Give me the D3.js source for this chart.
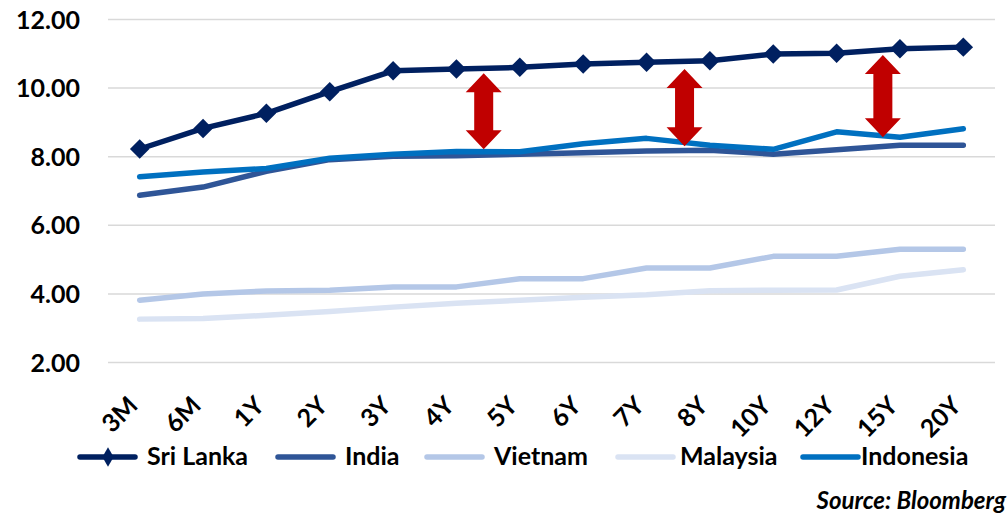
<!DOCTYPE html>
<html>
<head>
<meta charset="utf-8">
<script src="https://cdn.jsdelivr.net/npm/d3@7"></script>
<style>
  body { margin: 0; background: #fff; }
  svg { display: block; font-family: Lato, "Open Sans", sans-serif; font-weight: 700; }
</style>
</head>
<body>
<div id="chart"></div>
<script>
const tenors = ["3M", "6M", "1Y", "2Y", "3Y", "4Y", "5Y", "6Y", "7Y", "8Y", "10Y", "12Y", "15Y", "20Y"];
const yTicks = [2, 4, 6, 8, 10, 12];

const sriLanka  = [8.21, 8.81, 9.25, 9.88, 10.49, 10.54, 10.59, 10.69, 10.74, 10.78, 10.98, 11.00, 11.13, 11.18];
const india     = [6.86, 7.10, 7.56, 7.90, 8.00, 8.01, 8.06, 8.10, 8.15, 8.17, 8.06, 8.19, 8.32, 8.32];
const vietnam   = [3.80, 3.98, 4.07, 4.09, 4.19, 4.19, 4.43, 4.43, 4.74, 4.74, 5.08, 5.08, 5.29, 5.29];
const malaysia  = [3.25, 3.27, 3.36, 3.47, 3.60, 3.71, 3.80, 3.89, 3.96, 4.08, 4.09, 4.10, 4.50, 4.69];
const indonesia = [7.40, 7.54, 7.64, 7.94, 8.06, 8.14, 8.13, 8.36, 8.52, 8.32, 8.20, 8.71, 8.55, 8.80];

const seriesNames  = ["Sri Lanka", "India", "Vietnam", "Malaysia", "Indonesia"];
const seriesValues = [sriLanka, india, vietnam, malaysia, indonesia];
const seriesColors = ["#002060", "#2f5597", "#b4c7e7", "#dae3f3", "#0070c0"];

// gap arrows: fractional category index, top value, bottom value
const arrowPos    = [5.43, 8.6, 11.73];
const arrowTop    = [10.42, 10.54, 10.95];
const arrowBottom = [8.20, 8.29, 8.55];

const width = 1008, height = 516;
const margin = { top: 19, right: 13, bottom: 154, left: 108 };

const svg = d3.select("#chart").append("svg")
  .attr("width", width)
  .attr("height", height);

const x = d3.scalePoint()
  .domain(tenors)
  .range([margin.left, width - margin.right])
  .padding(0.5);

const y = d3.scaleLinear()
  .domain([2, 12])
  .range([height - margin.bottom, margin.top]);

// gridlines
svg.append("g")
  .attr("transform", `translate(${margin.left},0)`)
  .call(d3.axisLeft(y).tickValues(yTicks).tickSize(-(width - margin.left - margin.right)).tickFormat(""))
  .call(g => g.select(".domain").remove())
  .call(g => g.selectAll("line").attr("stroke", "#d9d9d9").attr("stroke-width", 1.5));

// y axis labels
svg.append("g")
  .attr("transform", `translate(${margin.left},0)`)
  .call(d3.axisLeft(y).tickValues(yTicks).tickSize(0).tickPadding(28).tickFormat(d3.format(".2f")))
  .call(g => g.select(".domain").remove())
  .call(g => g.selectAll("text")
    .attr("font-family", "Lato, sans-serif")
    .attr("font-weight", 700)
    .attr("font-size", 25)
    .attr("fill", "#000")
    .attr("dy", "0.36em"));

// x axis labels
svg.append("g")
  .attr("transform", `translate(0,${height - margin.bottom})`)
  .call(d3.axisBottom(x).tickSize(0).tickPadding(0))
  .call(g => g.select(".domain").remove())
  .call(g => g.selectAll("text")
    .attr("font-family", "Lato, sans-serif")
    .attr("font-weight", 700)
    .attr("font-size", 25)
    .attr("fill", "#000")
    .attr("text-anchor", "end")
    .attr("dy", 0)
    .attr("y", 0)
    .attr("transform", "translate(-1,45) rotate(-45)"));

const line = d3.line()
  .x((d, i) => x(tenors[i]))
  .y(d => y(d));

seriesValues.forEach((vals, k) => {
  svg.append("path")
    .datum(vals)
    .attr("fill", "none")
    .attr("stroke", seriesColors[k])
    .attr("stroke-width", 5.5)
    .attr("stroke-linecap", "round")
    .attr("stroke-linejoin", "round")
    .attr("d", line);
});

// diamond markers for Sri Lanka
const diamond = d3.symbol().type(d3.symbolSquare).size(190);
svg.append("g")
  .selectAll("path")
  .data(sriLanka)
  .join("path")
  .attr("d", diamond)
  .attr("fill", seriesColors[0])
  .attr("transform", (d, i) => `translate(${x(tenors[i])},${y(d)}) rotate(45)`);

// red double-headed arrows
const step = x.step();
const arrowPath = (cx, y1, y2) => {
  const sw = 9.5, hw = 18, hl = 19;
  return `M${cx},${y1} L${cx + hw},${y1 + hl} L${cx + sw},${y1 + hl} L${cx + sw},${y2 - hl}` +
    ` L${cx + hw},${y2 - hl} L${cx},${y2} L${cx - hw},${y2 - hl} L${cx - sw},${y2 - hl}` +
    ` L${cx - sw},${y1 + hl} L${cx - hw},${y1 + hl} Z`;
};
svg.append("g")
  .selectAll("path")
  .data(arrowPos)
  .join("path")
  .attr("fill", "#c00000")
  .attr("d", (p, i) => arrowPath(x(tenors[0]) + p * step, y(arrowTop[i]), y(arrowBottom[i])));

// legend
const legendX = [80, 278, 427, 618, 803];
const legendY = 457;
const lg = svg.append("g")
  .selectAll("g")
  .data(seriesNames)
  .join("g")
  .attr("transform", (d, i) => `translate(${legendX[i]},${legendY})`);

lg.append("line")
  .attr("x1", 0).attr("x2", 55)
  .attr("stroke", (d, i) => seriesColors[i])
  .attr("stroke-width", 5.5)
  .attr("stroke-linecap", "round");

lg.filter((d, i) => i === 0)
  .append("path")
  .attr("d", d3.symbol().type(d3.symbolDiamond).size(110))
  .attr("transform", "translate(28,0)")
  .attr("fill", seriesColors[0]);

lg.append("text")
  .attr("x", (d, i) => i === 4 ? 58 : (i === 3 ? 62 : 67))
  .attr("y", 8)
  .attr("font-size", 25)
  .attr("fill", "#000")
  .text(d => d);

// source note
svg.append("text")
  .attr("x", 1006)
  .attr("y", 509)
  .attr("text-anchor", "end")
  .attr("font-size", 24)
  .attr("font-style", "italic")
  .attr("fill", "#000")
  .text("Source: Bloomberg");
</script>
</body>
</html>
